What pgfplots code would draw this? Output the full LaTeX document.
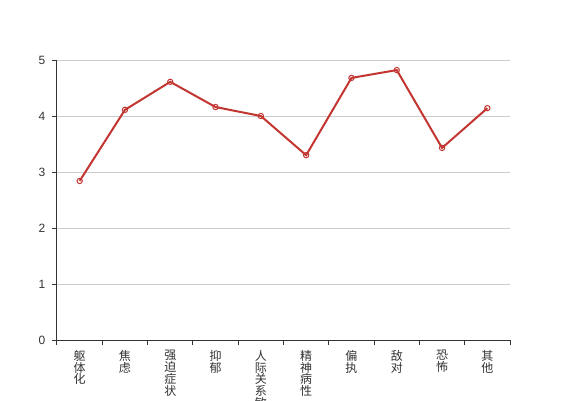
\documentclass[border=0pt]{standalone}
\usepackage{pgfplots}
\pgfplotsset{compat=1.18}
\usepackage{fontspec}
\setmainfont{Liberation Sans}
\newfontfamily\cjk{Noto Sans CJK SC}
\definecolor{ecred}{HTML}{C23531}
\definecolor{axgray}{HTML}{333333}
\definecolor{gridgray}{HTML}{CCCCCC}
\begin{document}
\begin{tikzpicture}
\begin{axis}[
  name=ax,
  scale only axis,
  width=339.75pt, height=210pt,
  xmin=-0.5, xmax=9.5,
  ymin=0, ymax=5,
  axis lines*=left,
  axis line style={axgray, line width=0.75pt},
  ytick={0,1,2,3,4,5},
  xtick={0,...,9},
  xticklabels={{躯\\体\\化},{焦\\虑},{强\\迫\\症\\状},{抑\\郁},{人\\际\\关\\系\\敏\\感},{精\\神\\病\\性},{偏\\执},{敌\\对},{恐\\怖},{其\\他}},
  minor xtick={-0.5,0.5,...,9.5},
  tick align=outside,
  major tick length=3.75pt,
  minor tick length=3.75pt,
  x tick style={draw=none},
  minor x tick style={draw=axgray, line width=0.75pt},
  y tick style={axgray, line width=0.75pt},
  ymajorgrids,
  major grid style={gridgray, line width=0.75pt},
  /pgf/number format/assume math mode=true,
  yticklabel style={font=\fontsize{9}{9}\selectfont, text=axgray, xshift=-1.5pt},
  xticklabel style={font=\cjk\fontsize{9}{8.8}\selectfont, text=axgray, align=center, anchor=north, yshift=-0.5pt},
  clip=false,
]
\addplot[color=ecred, line width=1.5pt, mark=o, mark size=2pt,
  mark options={fill=white, draw=ecred, line width=0.75pt, solid}]
  coordinates {(0,2.84) (1,4.11) (2,4.61) (3,4.16) (4,4.00) (5,3.30) (6,4.68) (7,4.82) (8,3.43) (9,4.14)};
\end{axis}
\pgfresetboundingbox
\path[use as bounding box] (ax.south west) ++(-42.75pt,-45pt) rectangle ++(425.25pt,300pt);
\end{tikzpicture}
\end{document}
